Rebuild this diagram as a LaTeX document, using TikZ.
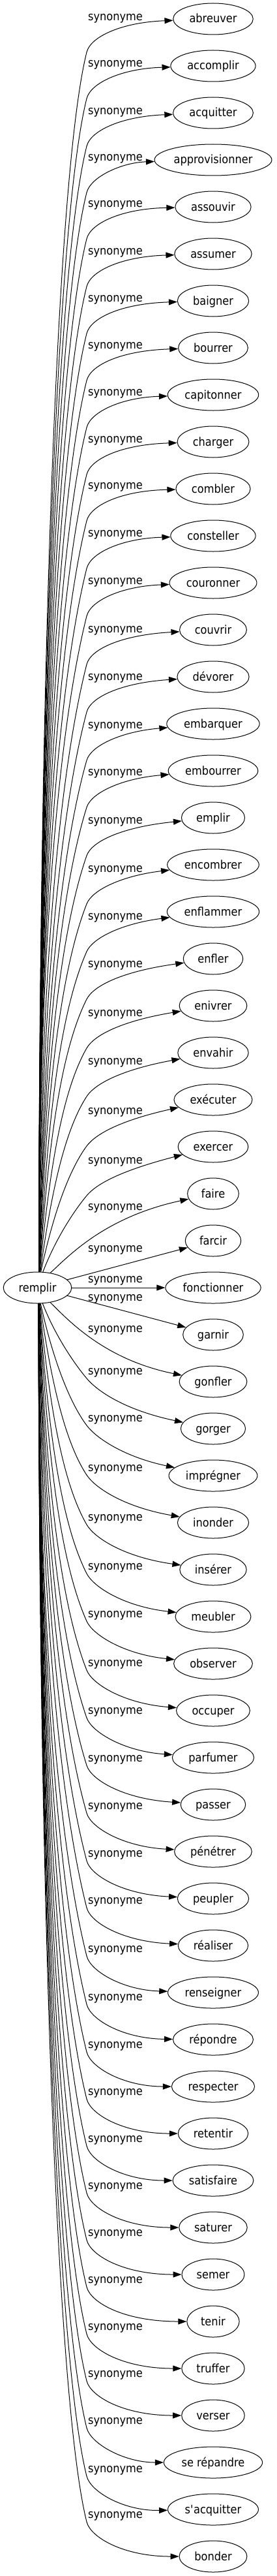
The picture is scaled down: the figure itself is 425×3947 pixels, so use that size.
\documentclass[tikz,border=0pt]{standalone}
\usepackage{fontspec}
\setmainfont{DejaVu Sans}[FakeStretch=0.9]
\usetikzlibrary{arrows.meta,shapes.geometric,calc}
\newlength\wlen
\newcommand\wordfont{\fontsize{18pt}{21pt}\selectfont}
\newcommand\apos{\XeTeXglyph\XeTeXcharglyph"27\relax}
\newcommand\wordlist{0/abreuver/28, 1/accomplir/99, 2/acquitter/172, 3/approvisionner/243,
  4/assouvir/314, 5/assumer/387, 6/baigner/459, 7/bourrer/531, 8/capitonner/603, 9/charger/675,
  10/combler/746, 11/consteller/819, 12/couronner/892, 13/couvrir/966, 14/dévorer/1039,
  15/embarquer/1113, 16/embourrer/1185, 17/emplir/1259, 18/encombrer/1333, 19/enflammer/1406,
  20/enfler/1479, 21/enivrer/1554, 22/envahir/1628, 23/exécuter/1704, 24/exercer/1780,
  25/faire/1851, 26/farcir/1915, 27/fonctionner/1962, 28/garnir/1990, 29/gonfler/2038,
  30/gorger/2103, 31/imprégner/2175, 32/inonder/2251, 33/insérer/2327, 34/meubler/2402,
  35/observer/2475, 36/occuper/2550, 37/parfumer/2623, 38/passer/2696, 39/pénétrer/2769,
  40/peupler/2842, 41/réaliser/2914, 42/renseigner/2988, 43/répondre/3062, 44/respecter/3135,
  45/retentir/3207, 46/satisfaire/3279, 47/saturer/3351, 48/semer/3423, 49/tenir/3495,
  50/truffer/3567, 51/verser/3639, 52/se répandre/3711, 53/s\apos acquitter/3785, 54/bonder/3855}
\begin{document}%
\settowidth\wlen{\wordfont remplir}%
\pgfmathsetmacro\tmp{1.2*\wlen+35}%
\xdef\mwR{\tmp}%
\foreach \k/\word/\ly in \wordlist {%
  \settowidth\wlen{\wordfont \word}%
  \pgfmathsetmacro\tmp{1.2*\wlen+35}%
  \expandafter\xdef\csname mw\k\endcsname{\tmp}%
}%
\begin{tikzpicture}[x=1pt,y=-1pt,
  word/.style={draw, ellipse, line width=1pt, minimum height=48pt, inner sep=0pt, font=\wordfont, text height=16pt, text depth=4pt},
  rel/.style={font=\wordfont, inner sep=0pt},
  syn/.style={line width=1pt, -{Triangle[length=13pt,width=9pt]}}]
\useasboundingbox (0,0) rectangle (425,3947);
\fill[white] (0,0) rectangle (425,3947);

\node[word, minimum width=\mwR pt] (remplir) at (57.5,1973) {remplir};

\foreach \k/\word/\ly in \wordlist {
  \pgfmathsetmacro\ty{29+72*\k}
  \edef\mw{\csname mw\k\endcsname}
  \node[word, minimum width=\mw pt] (t\k) at (327,\ty) {\word};
  \node[rel] (l\k) at (177,\ly) {synonyme};
}

% upper edges
\foreach \k/\ly in {0/28, 1/99, 2/172, 3/243, 4/314, 5/387, 6/459, 7/531, 8/603, 9/675,
  10/746, 11/819, 12/892, 13/966, 14/1039, 15/1113, 16/1185, 17/1259, 18/1333, 19/1406,
  20/1479, 21/1554, 22/1628, 23/1704, 24/1780} {
  \pgfmathsetmacro\ty{29+72*\k}
  \pgfmathtruncatemacro\ang{86-40/((26-\k)^1.5)}
  \pgfmathsetmacro\Ay{\ly+52}
  \pgfmathsetmacro\Lc{1949-\Ay}
  \pgfmathsetmacro\gf{min(1,\Lc/1000)}
  \pgfmathsetmacro\sl{0.25+0.75*(1-\gf)^2}
  \pgfmathsetmacro\mm{200*\gf}
  \pgfmathsetmacro\nn{24-6*(1-\gf)}
  \pgfmathsetmacro\hh{21.9*(1-\gf)}
  \pgfmathsetmacro\cay{-0.43*\Lc}
  \pgfmathsetmacro\cbx{133-\mm*\sl}
  \pgfmathsetmacro\cby{\Ay+\mm}
  \pgfmathsetmacro\ccx{133+\nn*\sl}
  \pgfmathsetmacro\ccy{\Ay-\nn}
  \pgfmathsetmacro\cdy{\ty+1.3*(\ly-\ty+5)}
  \draw[syn] (remplir.\ang) .. controls ($(remplir.\ang)+(\hh,\cay)$) and (\cbx,\cby) .. (133,\Ay) .. controls (\ccx,\ccy) and (187,\cdy) .. (t\k);
}

% middle edges
\draw[syn] (remplir.49) .. controls (105,1925) and (160,1865) .. (t25);
\draw[syn] (remplir) -- (t26);
\draw[syn] (remplir) -- (t27);
\draw[syn] (remplir) -- (t28);
\draw[syn] (remplir.311) .. controls (105,2023) and (160,2083) .. (t29);

% lower edges
\foreach \k/\ly in {30/2103, 31/2175, 32/2251, 33/2327, 34/2402, 35/2475, 36/2550, 37/2623,
  38/2696, 39/2769, 40/2842, 41/2914, 42/2988, 43/3062, 44/3135, 45/3207, 46/3279, 47/3351,
  48/3423, 49/3495, 50/3567, 51/3639, 52/3711, 53/3785, 54/3855} {
  \pgfmathsetmacro\ty{29+72*\k}
  \pgfmathtruncatemacro\ang{360-(86-40/((\k-28)^1.5))}
  \pgfmathsetmacro\Ay{\ly+9}
  \pgfmathsetmacro\Lc{\Ay-1997}
  \pgfmathsetmacro\gf{min(1,\Lc/1000)}
  \pgfmathsetmacro\sl{0.25+0.75*(1-\gf)^2}
  \pgfmathsetmacro\mm{200*\gf}
  \pgfmathsetmacro\nn{24-6*(1-\gf)}
  \pgfmathsetmacro\hh{21.9*(1-\gf)}
  \pgfmathsetmacro\cay{0.43*\Lc}
  \pgfmathsetmacro\cbx{133-\mm*\sl}
  \pgfmathsetmacro\cby{\Ay-\mm}
  \pgfmathsetmacro\ccx{133+\nn*\sl}
  \pgfmathsetmacro\ccy{\Ay+\nn}
  \pgfmathsetmacro\ee{\ty-\Ay-53}
  \pgfmathsetmacro\cdy{\ty-1.2*\ee}
  \draw[syn] (remplir.\ang) .. controls ($(remplir.\ang)+(\hh,\cay)$) and (\cbx,\cby) .. (133,\Ay) .. controls (\ccx,\ccy) and (190,\cdy) .. (t\k);
}
\end{tikzpicture}
\end{document}
